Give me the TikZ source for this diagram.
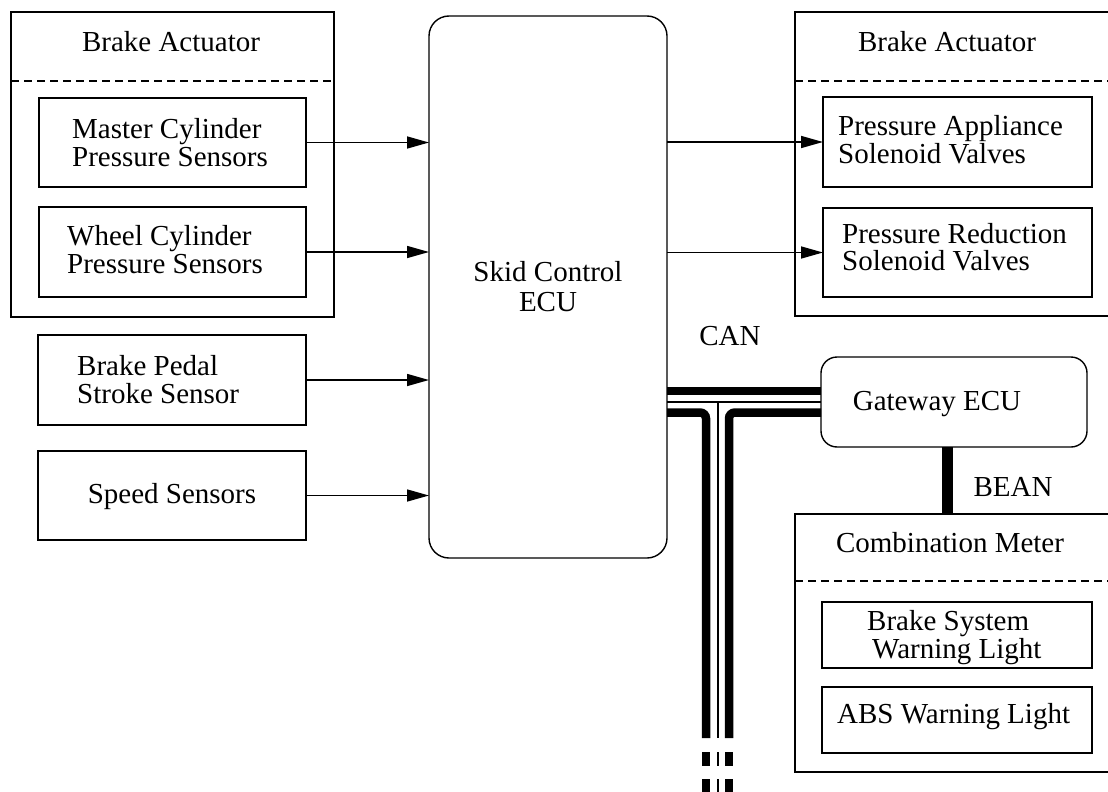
\documentclass[tikz,border=0pt]{standalone}
\usepackage{fontspec}
\setmainfont{Liberation Serif}
\usetikzlibrary{arrows.meta,fit}
\begin{document}
\begin{tikzpicture}[x=1pt,y=-1pt,
  box/.style={draw, line width=1.4pt, inner sep=0pt, outer sep=0pt},
  lbl/.style={inner sep=0pt, font=\fontsize{29}{29}\selectfont},
  sepline/.style={line width=1.4pt, dash pattern=on 8pt off 5pt},
  arr/.style={line width=1.5pt, -{Triangle[length=22pt,width=12pt]}},
  thickbus/.style={line width=8.5pt},
  thinbus/.style={line width=2pt},
  beanbus/.style={line width=11pt},
]
\useasboundingbox (0,0) rectangle (1108,792);
\clip (0,0) rectangle (1108,792);

% helper coordinates
\coordinate (d1) at (0,81);
\coordinate (d2) at (0,581);
\coordinate (ya) at (0,391);
\coordinate (yb) at (0,402);
\coordinate (yc) at (0,412.5);
\coordinate (yend) at (0,738);
\coordinate (jl) at (706,0);
\coordinate (jm) at (718,0);
\coordinate (jr) at (729,0);
\coordinate (bx) at (947.5,0);

% left brake actuator
\node[box, fit={(11,12) (334,317)}] (la) {};
\draw[sepline] (la.west |- d1) -- (la.east |- d1);
\node[lbl, anchor=base] (tla) at (171,52) {Brake Actuator};
\node[box, fit={(39,98) (306,187)}] (mcps) {};
\node[lbl, anchor=base west] (tm1) at (72,138) {Master Cylinder};
\node[lbl, anchor=base west] (tm2) at (72,166) {Pressure Sensors};
\node[box, fit={(39,207) (306,297)}] (wcps) {};
\node[lbl, anchor=base west] (tw1) at (67,245) {Wheel Cylinder};
\node[lbl, anchor=base west] (tw2) at (67,273) {Pressure Sensors};

% other left boxes
\node[box, fit={(38,335) (306,425)}] (bpss) {};
\node[lbl, anchor=base west] (tb1) at (77,375) {Brake Pedal};
\node[lbl, anchor=base west] (tb2) at (77,403) {Stroke Sensor};
\node[box, fit={(38,451) (306,540)}] (spd) {};
\node[lbl, anchor=base] (ts) at (172,503) {Speed Sensors};

% skid control ECU
\node[box, rounded corners=20pt, fit={(429,16) (667,558)}] (ecu) {};
\node[lbl, anchor=base] (te1) at (548,281) {Skid Control};
\node[lbl, anchor=base] (te2) at (548,311) {ECU};

% right brake actuator
\node[box, fit={(795,12) (1130,316)}] (ra) {};
\draw[sepline] (ra.west |- d1) -- (ra.east |- d1);
\node[lbl, anchor=base] (tra) at (947,52) {Brake Actuator};
\node[box, fit={(823,97) (1092,187)}] (pasv) {};
\node[lbl, anchor=base west] (tp1) at (838,135) {Pressure Appliance};
\node[lbl, anchor=base west] (tp2) at (838,163) {Solenoid Valves};
\node[box, fit={(823,208) (1092,297)}] (prsv) {};
\node[lbl, anchor=base west] (tr1) at (842,243) {Pressure Reduction};
\node[lbl, anchor=base west] (tr2) at (842,270) {Solenoid Valves};

% gateway ECU
\node[box, rounded corners=16pt, fit={(821,357) (1087,447)}] (gw) {};
\node[lbl, anchor=base] (tg) at (937,410) {Gateway ECU};

% combination meter
\node[box, fit={(795,514) (1130,772)}] (cm) {};
\draw[sepline] (cm.west |- d2) -- (cm.east |- d2);
\node[lbl, anchor=base] (tc) at (950,552) {Combination Meter};
\node[box, fit={(822,602) (1092,668)}] (bswl) {};
\node[lbl, anchor=base west] (tbs1) at (867,630) {Brake System};
\node[lbl, anchor=base west] (tbs2) at (872,658) {Warning Light};
\node[box, fit={(822,687) (1092,753)}] (absl) {};
\node[lbl, anchor=base west] (tab) at (837,723) {ABS Warning Light};

% signal arrows
\draw[arr] (mcps.east) -- (ecu.west |- mcps.east);
\draw[arr] (wcps.east) -- (ecu.west |- wcps.east);
\draw[arr] (bpss.east) -- (ecu.west |- bpss.east);
\draw[arr] (spd.east) -- (ecu.west |- spd.east);
\draw[arr] (ecu.east |- pasv.west) -- (pasv.west);
\draw[arr] (ecu.east |- prsv.west) -- (prsv.west);

% CAN bus
\node[lbl, anchor=base] (tcan) at (730,345) {CAN};
\draw[thickbus] (ecu.east |- ya) -- (gw.west |- ya);
\draw[thinbus] (ecu.east |- yb) -- (gw.west |- yb);
\draw[thickbus, rounded corners=6pt] (ecu.east |- yc) -- (jl |- yc) -- (jl |- yend);
\draw[thickbus, rounded corners=6pt] (gw.west |- yc) -- (jr |- yc) -- (jr |- yend);
\draw[thinbus] (jm |- yb) -- (jm |- yend);
\foreach \a/\b in {752/766, 779/800} {
  \draw[thickbus] (706,\a) -- (706,\b);
  \draw[thickbus] (729,\a) -- (729,\b);
  \draw[thinbus] (718,\a) -- (718,\b);
}

% BEAN
\draw[beanbus] (gw.south -| bx) -- (cm.north -| bx);
\node[lbl, anchor=base] (tbean) at (1013,496) {BEAN};
\end{tikzpicture}
\end{document}
